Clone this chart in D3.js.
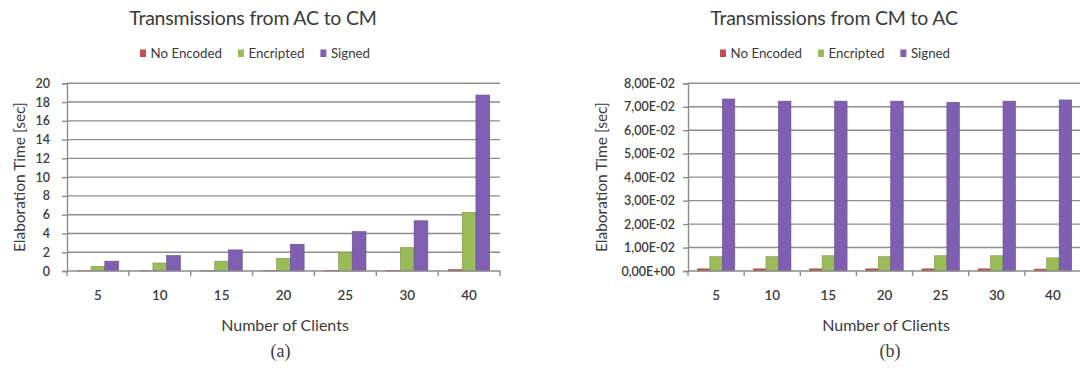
<!DOCTYPE html>
<html>
<head>
<meta charset="utf-8">
<script src="https://cdn.jsdelivr.net/npm/d3@7/dist/d3.min.js"></script>
<style>
  html, body { margin: 0; padding: 0; background: #ffffff; }
  svg { display: block; }
  text { font-family: Lato, "Open Sans", sans-serif; fill: #3b3b3b; }
</style>
</head>
<body>
<svg id="fig" width="1080" height="378"></svg>
<script>
// Categories and series
const clients = ["5", "10", "15", "20", "25", "30", "40"];
const seriesNames = ["No Encoded", "Encripted", "Signed"];
const seriesColors = ["#c0504d", "#9bbb59", "#7f5fb2"];

// (a) Transmissions from AC to CM, seconds
const acToCmNoEncoded = [0.02, 0.02, 0.03, 0.03, 0.04, 0.05, 0.15];
const acToCmEncripted = [0.5, 0.85, 1.05, 1.35, 2.0, 2.5, 6.25];
const acToCmSigned    = [1.05, 1.65, 2.25, 2.85, 4.2, 5.35, 18.75];
const acToCmTicks  = [0, 2, 4, 6, 8, 10, 12, 14, 16, 18, 20];
const acToCmLabels = ["0", "2", "4", "6", "8", "10", "12", "14", "16", "18", "20"];

// (b) Transmissions from CM to AC, seconds
const cmToAcNoEncoded = [0.0009, 0.0009, 0.0009, 0.0009, 0.0009, 0.0009, 0.0008];
const cmToAcEncripted = [0.0061, 0.0061, 0.0065, 0.0061, 0.0065, 0.0065, 0.0056];
const cmToAcSigned    = [0.0733, 0.0724, 0.0724, 0.0724, 0.0719, 0.0724, 0.0729];
const cmToAcTicks  = [0, 0.01, 0.02, 0.03, 0.04, 0.05, 0.06, 0.07, 0.08];
const cmToAcLabels = ["0,00E+00", "1,00E-02", "2,00E-02", "3,00E-02", "4,00E-02",
                      "5,00E-02", "6,00E-02", "7,00E-02", "8,00E-02"];

const svg = d3.select("#fig");

function drawPanel(cfg) {
  const g = svg.append("g");
  const x0 = d3.scaleBand().domain(clients).range([cfg.left, cfg.right]).padding(0);
  const x1 = d3.scaleBand().domain(seriesNames).range([0, x0.bandwidth()])
    .paddingInner(0).paddingOuter(0.75);
  const y = d3.scaleLinear().domain([0, cfg.ticks[cfg.ticks.length - 1]])
    .range([cfg.bottom, cfg.top]);

  // horizontal gridlines
  g.append("g").selectAll("line").data(cfg.ticks.slice(1)).join("line")
    .attr("x1", cfg.left).attr("x2", cfg.right)
    .attr("y1", d => y(d)).attr("y2", d => y(d))
    .attr("stroke", "#8d8d8d").attr("stroke-width", 1.4);

  // bars
  const rows = clients.map((c, i) => ({ c, vals: cfg.series.map(s => s[i]) }));
  g.append("g").selectAll("g").data(rows).join("g")
    .attr("transform", d => `translate(${x0(d.c)},0)`)
    .selectAll("rect").data(d => d.vals.map((v, k) => ({ v, k }))).join("rect")
    .attr("x", d => x1(seriesNames[d.k]))
    .attr("width", x1.bandwidth())
    .attr("y", d => y(d.v))
    .attr("height", d => y(0) - y(d.v))
    .attr("fill", d => seriesColors[d.k])
    .attr("stroke", d => d3.color(seriesColors[d.k]).darker(0.6))
    .attr("stroke-width", 0.6);

  // y axis
  const ya = g.append("g").attr("transform", `translate(${cfg.left},0)`)
    .call(d3.axisLeft(y).tickValues(cfg.ticks).tickSize(5).tickPadding(cfg.tickPad)
      .tickFormat((d, i) => cfg.labels[i]));
  ya.select(".domain").attr("stroke", "#8d8d8d").attr("stroke-width", 1.4);
  ya.selectAll(".tick line").attr("stroke", "#8d8d8d").attr("stroke-width", 1.4);
  ya.selectAll(".tick text").style("font-size", cfg.tickSize + "px")
    .style("font-weight", "600").attr("fill", "#3b3b3b");

  // x axis: baseline, boundary ticks and centred category labels
  g.append("line").attr("x1", cfg.left).attr("x2", cfg.right)
    .attr("y1", y(0)).attr("y2", y(0))
    .attr("stroke", "#8d8d8d").attr("stroke-width", 1.4);
  const bounds = clients.map(c => x0(c)).concat([cfg.right]);
  g.append("g").selectAll("line").data(bounds).join("line")
    .attr("x1", d => d).attr("x2", d => d)
    .attr("y1", y(0)).attr("y2", y(0) + 5)
    .attr("stroke", "#8d8d8d").attr("stroke-width", 1.4);
  g.append("g").selectAll("text").data(clients).join("text")
    .attr("x", d => x0(d) + x0.bandwidth() / 2)
    .attr("y", y(0) + 29)
    .attr("text-anchor", "middle")
    .style("font-size", "13.5px").style("font-weight", "600")
    .text(d => d);

  // axis titles
  g.append("text")
    .attr("transform", `translate(${cfg.yTitleX},${(cfg.top + cfg.bottom) / 2}) rotate(-90)`)
    .attr("text-anchor", "middle").attr("dy", "0.35em")
    .style("font-size", "15.5px")
    .text("Elaboration Time [sec]");
  g.append("text")
    .attr("x", cfg.xTitleX).attr("y", 331)
    .attr("text-anchor", "middle")
    .style("font-size", "16px")
    .text("Number of Clients");

  // chart title
  g.append("text")
    .attr("x", cfg.titleX).attr("y", 25)
    .attr("text-anchor", "middle")
    .style("font-size", "19.5px").style("letter-spacing", "-0.2px")
    .text(cfg.title);

  // legend
  const lg = g.append("g").attr("transform", `translate(${cfg.legendX},0)`);
  let cx = 0;
  seriesNames.forEach((name, k) => {
    lg.append("rect").attr("x", cx).attr("y", 49.5).attr("width", 6).attr("height", 7.5)
      .attr("fill", seriesColors[k]);
    const t = lg.append("text").attr("x", cx + 10.5).attr("y", 57.5)
      .style("font-size", "13.3px").text(name);
    cx += 10.5 + t.node().getComputedTextLength() + 16;
  });

  // panel caption
  g.append("text")
    .attr("x", cfg.captionX).attr("y", 357)
    .attr("text-anchor", "middle")
    .style("font-family", "'Liberation Serif', 'DejaVu Serif', serif")
    .style("font-size", "18px").attr("fill", "#222")
    .text(cfg.caption);
}

drawPanel({
  left: 67, right: 500, top: 83.3, bottom: 271,
  series: [acToCmNoEncoded, acToCmEncripted, acToCmSigned],
  ticks: acToCmTicks, labels: acToCmLabels, tickSize: 12.5, tickPad: 12,
  yTitleX: 20, xTitleX: 285, titleX: 253, legendX: 140, captionX: 280.5,
  title: "Transmissions from AC to CM", caption: "(a)"
});

drawPanel({
  left: 688, right: 1081, top: 83.3, bottom: 271,
  series: [cmToAcNoEncoded, cmToAcEncripted, cmToAcSigned],
  ticks: cmToAcTicks, labels: cmToAcLabels, tickSize: 12.5, tickPad: 8,
  yTitleX: 602, xTitleX: 886, titleX: 834, legendX: 720, captionX: 890,
  title: "Transmissions from CM to AC", caption: "(b)"
});
</script>
</body>
</html>
